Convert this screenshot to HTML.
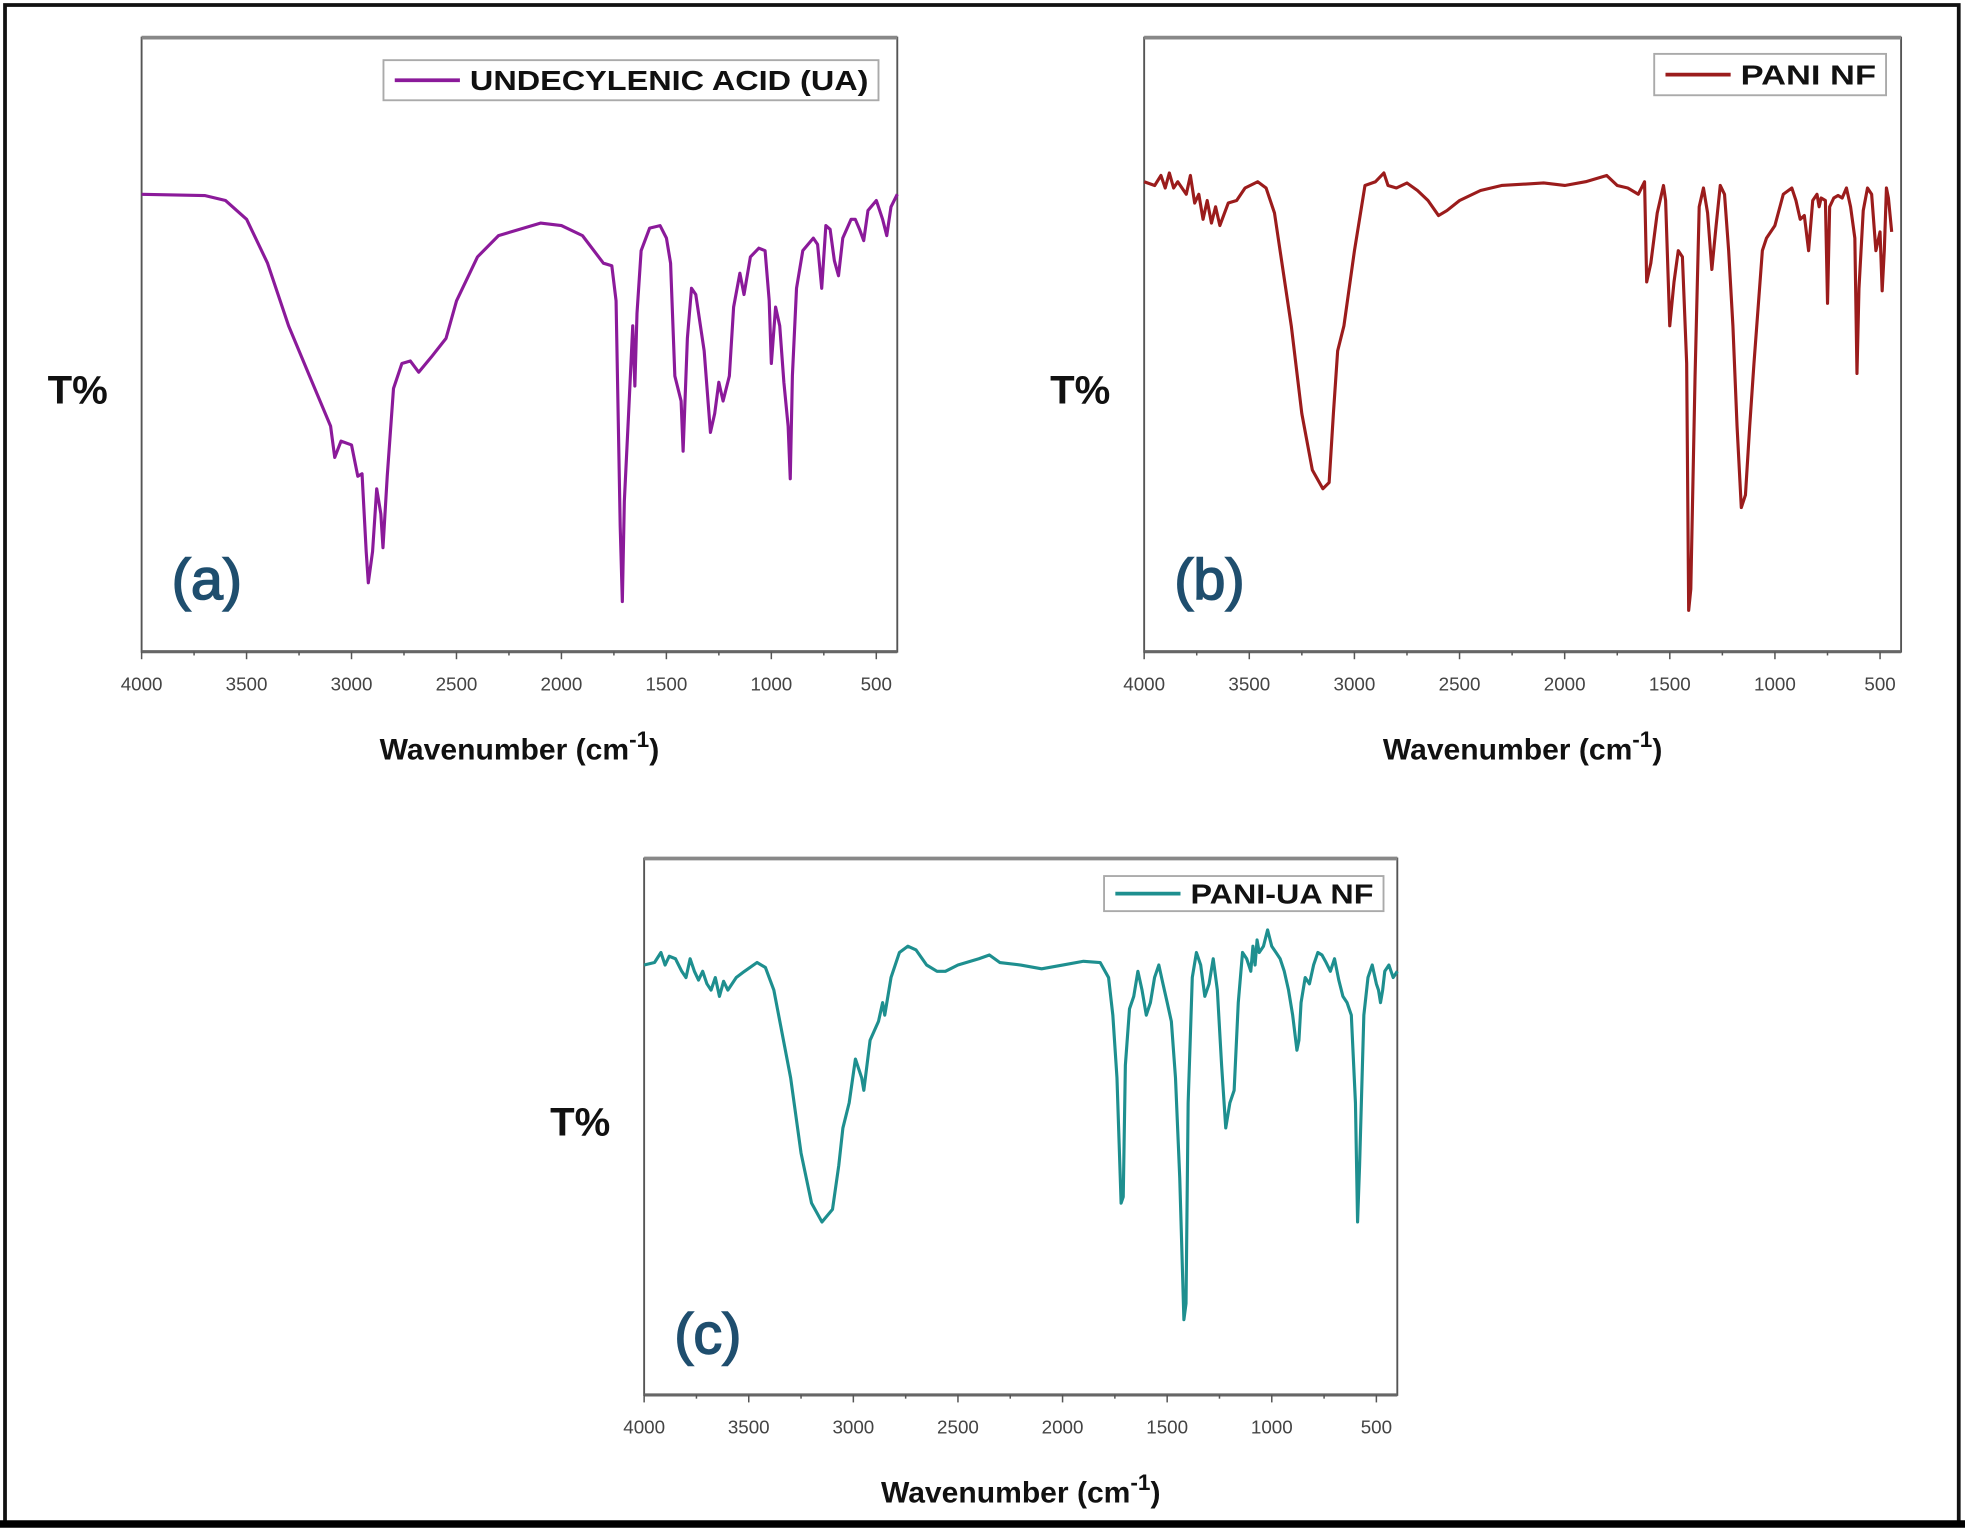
<!DOCTYPE html>
<html><head><meta charset="utf-8"><style>
html,body{margin:0;padding:0;background:#fff;}
svg{display:block;}
</style></head><body>
<svg id="s" width="1965" height="1529" viewBox="0 0 1568 1220" preserveAspectRatio="none" xmlns="http://www.w3.org/2000/svg" font-family="Liberation Sans, Arial, sans-serif">
<rect x="0" y="0" width="1568" height="1220" fill="#fff"/>
<rect x="4" y="4" width="1559" height="1211" fill="none" stroke="#111" stroke-width="3"/>
<line x1="0" y1="1216" x2="1568" y2="1216" stroke="#000" stroke-width="6"/>
<g id="g"></g>
</svg>
<script>
const NS="http://www.w3.org/2000/svg";
const g=document.getElementById('g');
function el(t,a,txt){const e=document.createElementNS(NS,t);for(const k in a)e.setAttribute(k,a[k]);if(txt!==undefined)e.textContent=txt;g.appendChild(e);return e;}
function panel(x0,y0,x1,y1,data,color,legend,lx,ly,lw,lh,tl,letter,ty,ly2){
  el('rect',{x:x0,y:y0,width:x1-x0,height:y1-y0,fill:'none',stroke:'#555','stroke-width':1.5});
  el('line',{x1:x0,y1:y0,x2:x1,y2:y0,stroke:'#888','stroke-width':3});
  el('line',{x1:x0,y1:y1,x2:x1,y2:y1,stroke:'#666','stroke-width':2.5});
  const X=w=>x0+(4000-w)/3600*(x1-x0);
  for(let w=4000;w>=500;w-=250){
    const major=w%500==0;
    el('line',{x1:X(w),y1:y1,x2:X(w),y2:y1+(major?6:3),stroke:'#555','stroke-width':1.2});
    if(major) el('text',{x:X(w),y:y1+31,'font-size':15,'text-anchor':'middle',fill:'#444'},String(w));
  }
  let d='';
  for(let i=0;i<data.length;i+=2){d+=(i?'L':'M')+X(data[i]).toFixed(1)+','+data[i+1]+' ';}
  el('path',{d:d,fill:'none',stroke:color,'stroke-width':2.5,'stroke-linejoin':'round'});
  el('rect',{x:lx,y:ly,width:lw,height:lh,fill:'#fff',stroke:'#aaa','stroke-width':1.5});
  el('line',{x1:lx+9,y1:ly+lh/2,x2:lx+61,y2:ly+lh/2,stroke:color,'stroke-width':3});
  el('text',{x:lx+69,y:ly+lh/2+8,'font-size':22,'font-weight':'bold',fill:'#111',textLength:tl,lengthAdjust:'spacingAndGlyphs'},legend);
  el('text',{x:x0-75,y:ty,'font-size':32,'font-weight':'bold',fill:'#111'},'T%');
  const cx=(x0+x1)/2;
  const t=el('text',{x:cx,y:y1+86,'font-size':24,'font-weight':'bold','text-anchor':'middle',fill:'#111'});
  t.innerHTML='Wavenumber (cm<tspan dy="-10" font-size="18">-1</tspan><tspan dy="10">)</tspan>';
  el('text',{x:x0+24,y:ly2,'font-size':46,fill:'#1f4e6e',stroke:'#1f4e6e','stroke-width':1.2},letter);
}
const A=[4000,155,3700,156,3600,160,3500,175,3400,210,3300,260,3200,300,3100,340,3080,365,3050,352,3000,355,2970,380,2950,378,2930,440,2920,465,2900,440,2880,390,2860,410,2850,437,2830,380,2800,310,2760,290,2720,288,2680,297,2620,285,2550,270,2500,240,2400,205,2300,188,2100,178,2000,180,1900,188,1800,210,1760,212,1740,240,1720,420,1710,480,1700,400,1680,330,1660,260,1650,308,1640,250,1620,200,1580,182,1530,180,1500,190,1480,210,1460,300,1430,320,1420,360,1400,270,1380,230,1360,235,1320,280,1290,345,1270,330,1250,305,1230,320,1200,300,1180,245,1150,218,1130,235,1100,205,1060,198,1030,200,1010,240,1000,290,980,245,960,260,940,305,920,340,910,382,900,300,880,230,850,200,800,190,780,195,760,230,740,180,720,183,700,208,680,220,660,190,620,175,600,175,580,183,560,192,540,168,500,160,470,175,450,188,430,165,400,155];
const B=[4000,145,3950,148,3920,140,3900,150,3880,138,3860,150,3840,145,3800,155,3780,140,3760,162,3740,155,3720,175,3700,160,3680,178,3660,165,3640,180,3600,162,3560,160,3520,150,3460,145,3420,150,3380,170,3300,260,3250,330,3200,375,3150,390,3120,385,3100,330,3080,280,3050,260,3000,200,2950,148,2900,145,2860,138,2840,148,2800,150,2750,146,2700,152,2650,160,2600,172,2560,168,2500,160,2400,152,2300,148,2100,146,2000,148,1900,145,1800,140,1750,148,1700,150,1650,155,1620,145,1610,225,1590,210,1560,170,1530,148,1520,160,1500,260,1480,225,1460,200,1440,205,1420,290,1410,487,1400,470,1380,300,1360,165,1340,150,1320,170,1300,215,1280,180,1260,148,1240,155,1220,200,1200,260,1180,340,1160,405,1140,395,1120,340,1100,290,1060,200,1040,190,1000,180,960,155,920,150,900,160,880,175,860,172,840,200,820,160,800,155,790,165,780,158,760,160,750,242,740,165,720,158,700,156,680,158,660,150,640,165,620,190,610,298,600,230,580,168,560,150,540,155,520,200,500,185,490,232,480,200,470,150,460,158,445,185];
const C=[4000,770,3950,768,3920,760,3900,770,3880,763,3850,765,3820,775,3800,780,3780,765,3760,775,3740,782,3720,775,3700,785,3680,790,3660,780,3640,795,3620,783,3600,790,3560,780,3520,775,3460,768,3420,772,3380,790,3300,860,3250,920,3200,960,3150,975,3100,965,3070,930,3050,900,3020,880,2990,845,2960,860,2950,870,2920,830,2880,815,2860,800,2850,810,2820,780,2780,760,2740,755,2700,758,2650,770,2600,775,2560,775,2500,770,2400,765,2350,762,2300,768,2200,770,2100,773,2000,770,1900,767,1820,768,1780,780,1760,810,1740,860,1720,960,1710,955,1700,850,1680,805,1660,795,1640,775,1620,790,1600,810,1580,800,1560,780,1540,770,1520,785,1500,800,1480,815,1460,860,1440,940,1420,1053,1410,1040,1400,880,1380,780,1360,760,1340,770,1320,795,1300,785,1280,765,1260,790,1240,850,1220,900,1200,880,1180,870,1160,800,1140,760,1120,765,1100,775,1090,755,1080,770,1070,750,1060,760,1040,755,1020,742,1000,755,980,760,960,765,940,775,920,790,900,810,880,838,870,830,860,800,840,780,820,785,800,770,780,760,760,762,740,768,720,775,700,765,680,782,660,795,640,800,620,810,600,880,590,975,580,930,560,810,540,780,520,770,500,785,490,790,480,800,470,790,460,775,440,770,420,780,400,775];
panel(113,30,716,520,A,'#8b1a9a','UNDECYLENIC ACID (UA)',306,48,395,32,318,'(a)',322,478);
panel(913,30,1517,520,B,'#9b1c1c','PANI NF',1320,43,185,33,108,'(b)',322,478);
panel(514,685,1115,1113,C,'#1e8f8f','PANI-UA NF',881,699,223,28,146,'(c)',906,1080);
</script>
</body></html>
